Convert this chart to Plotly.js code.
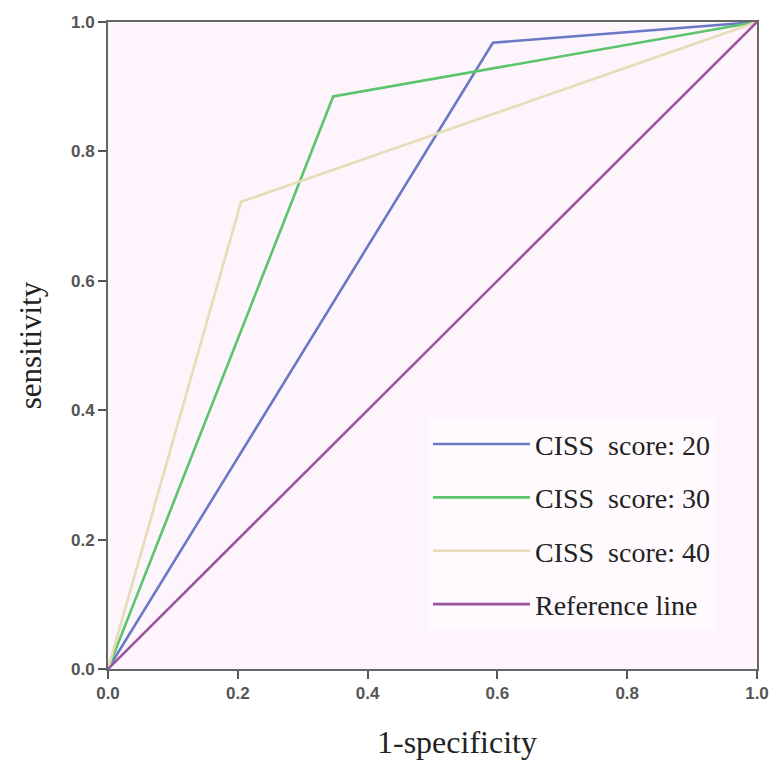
<!DOCTYPE html>
<html>
<head>
<meta charset="utf-8">
<script src="https://cdn.plot.ly/plotly-3.0.1.min.js"></script>
<style>body{margin:0;padding:0;background:#fff;} #chart{width:772px;height:760px;}</style>
</head>
<body>
<div id="chart"></div>
<script>
const seriesNames = ["CISS  score: 20", "CISS  score: 30", "CISS  score: 40", "Reference line"];
const fprCISS20 = [0, 0.593, 1];
const tprCISS20 = [0, 0.968, 1];
const fprCISS30 = [0, 0.347, 1];
const tprCISS30 = [0, 0.885, 1];
const fprCISS40 = [0, 0.205, 1];
const tprCISS40 = [0, 0.722, 1];
const fprRef = [0, 1];
const tprRef = [0, 1];
const tickVals = [0, 0.2, 0.4, 0.6, 0.8, 1.0];
const tickLabels = ["0.0", "0.2", "0.4", "0.6", "0.8", "1.0"];
const xTitle = "1-specificity";
const yTitle = "sensitivity";
const colors = ["#6b79c4", "#5cc46a", "#e6dcb8", "#9a559e"];

const xs = [fprCISS20, fprCISS30, fprCISS40, fprRef];
const ys = [tprCISS20, tprCISS30, tprCISS40, tprRef];

const traces = xs.map((x, i) => ({
  x: x, y: ys[i], type: 'scatter', mode: 'lines', name: seriesNames[i],
  legendgroup: 'g' + i,
  line: {color: colors[i], width: 2.6}
}));

const serif = 'Liberation Serif, Times New Roman, serif';
const axisCommon = {
  range: [0, 1], tickvals: tickVals, ticktext: tickLabels,
  showgrid: false, zeroline: false, showline: true, mirror: true,
  linecolor: '#666', linewidth: 2, ticks: 'outside', ticklen: 8, tickwidth: 2, tickcolor: '#555',
  tickfont: {family: 'Liberation Sans, Arial, sans-serif', size: 17, color: '#555', weight: 'bold'},
  fixedrange: true
};

const layout = {
  width: 772, height: 760,
  margin: {l: 108, r: 15, t: 22, b: 91},
  paper_bgcolor: '#ffffff',
  plot_bgcolor: '#fdf4fc',
  showlegend: true,
  legend: {
    x: 0.493, y: 0.386, xanchor: 'left', yanchor: 'top',
    bgcolor: 'rgba(255,255,255,0.5)', borderwidth: 0,
    font: {family: serif, size: 28, color: '#222'},
    tracegroupgap: 14, itemwidth: 97
  },
  xaxis: Object.assign({}, axisCommon, {title: {text: ''}}),
  yaxis: Object.assign({}, axisCommon, {
    title: {text: yTitle, font: {family: serif, size: 31, color: '#222'}, standoff: 20}
  }),
  annotations: [{
    text: xTitle, xref: 'paper', yref: 'paper', x: 0.538, y: -0.113,
    xanchor: 'center', yanchor: 'middle', showarrow: false,
    font: {family: serif, size: 32, color: '#222'}
  }]
};

Plotly.newPlot('chart', traces, layout, {displayModeBar: false, staticPlot: true});
</script>
</body>
</html>
